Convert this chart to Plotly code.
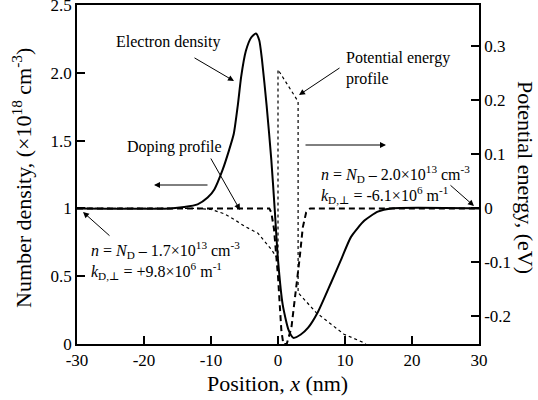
import plotly.graph_objects as go

# ---- data ----
x_el = [-30, -16, -14, -12, -10.5, -9.5, -8.3, -7.3, -6.6, -6.0, -5.5, -4.8, -4.0, -3.3,
        -2.8, -2.4, -1.7, -1.0, -0.5, 0.0, 0.7, 1.6, 2.3, 3.4, 4.5, 5.9, 7.9, 9.4, 10.9,
        12.9, 14.9, 16.9, 30]
n_el = [1.0, 1.0, 1.01, 1.03, 1.08, 1.14, 1.28, 1.43, 1.55, 1.76, 1.97, 2.16, 2.26, 2.29,
        2.24, 2.1, 1.76, 1.36, 1.0, 0.62, 0.29, 0.10, 0.045, 0.07, 0.12, 0.23, 0.45, 0.62, 0.79,
        0.91, 0.976, 1.0, 1.0]

x_dop = [-30, -1.3, -1.0, -0.6, 0.0, 0.5, 0.8, 1.3, 2.0, 2.6, 3.2, 3.7, 4.2, 4.8, 30]
n_dop = [1.0, 1.0, 0.97, 0.85, 0.5, 0.1, 0.0, 0.0, 0.12, 0.35, 0.62, 0.86, 0.97, 1.0, 1.0]

x_pot = [-30, -12, -10, -8, -6.6, -5, -3, -1, -0.3, 0.0, 0.0, 3.0, 3.0, 5.7, 9.85, 12.7, 14]
e_pot = [0.0, 0.0, -0.002, -0.01, -0.02, -0.033, -0.046, -0.076, -0.089, -0.09, 0.257, 0.198,
         -0.156, -0.193, -0.233, -0.248, -0.26]

x_ticks = [-30, -20, -10, 0, 10, 20, 30]
x_ticktext = ["-30", "-20", "-10", "0", "10", "20", "30"]
y_ticks = [0, 0.5, 1, 1.5, 2.0, 2.5]
y_ticktext = ["0", "0.5", "1", "1.5", "2.0", "2.5"]
y2_ticks = [-0.2, -0.1, 0, 0.1, 0.2, 0.3]
y2_ticktext = ["-0.2", "-0.1", "0", "0.1", "0.2", "0.3"]

FONT = "Liberation Serif, Times New Roman, DejaVu Serif, serif"
k = 0.2511  # eV per unit of density scale (aligns 0 eV with n=1)

L, R, T, B = 77, 479, 5, 344  # plot area in pixels

fig = go.Figure()
fig.add_trace(go.Scatter(x=x_el, y=n_el, mode="lines",
                         line=dict(color="black", width=2, shape="spline", smoothing=0.6),
                         showlegend=False))
fig.add_trace(go.Scatter(x=x_dop, y=n_dop, mode="lines",
                         line=dict(color="black", width=2, dash="6px,4px"), showlegend=False))
fig.add_trace(go.Scatter(x=x_pot, y=e_pot, mode="lines", yaxis="y2",
                         line=dict(color="black", width=1.2, dash="dot"), showlegend=False))

axis_common = dict(showline=True, linecolor="black", linewidth=1.5, ticks="inside", ticklen=8,
                   tickcolor="black", tickwidth=1.5, showgrid=False, zeroline=False,
                   ticklabeloverflow="allow", automargin=False,
                   tickfont=dict(family=FONT, size=17, color="black"))

fig.update_layout(
    width=538, height=400,
    margin=dict(l=L, r=538 - R, t=T, b=400 - B, autoexpand=False),
    plot_bgcolor="white", paper_bgcolor="white",
    font=dict(family=FONT, color="black"),
    xaxis=dict(range=[-30, 30], tickvals=x_ticks, ticktext=x_ticktext, mirror=True, **axis_common),
    yaxis=dict(range=[0, 2.5], tickvals=y_ticks, ticktext=y_ticktext, **axis_common),
    yaxis2=dict(range=[-k, 1.5 * k], overlaying="y", side="right", tickvals=y2_ticks,
                ticktext=y2_ticktext, **axis_common),
)


def px2d(px, py):
    return ((px - 277) / 6.7, (344 - py) / 135.6)


def px2paper(px, py):
    return ((px - L) / (R - L), (B - py) / (B - T))


def arrow(tail, head):
    fig.add_annotation(x=head[0], y=head[1], ax=tail[0], ay=tail[1], xref="x", yref="y",
                       axref="x", ayref="y", text="", showarrow=True, arrowhead=2,
                       arrowsize=1.2, arrowwidth=1, arrowcolor="black")


arrow(px2d(192, 57), px2d(233, 81))
arrow(px2d(209, 157), px2d(239, 210))
arrow(px2d(208, 185), px2d(153, 185))
arrow(px2d(303, 145), px2d(385, 145))
arrow(px2d(340, 67), px2d(298, 95))
arrow(px2d(448, 184), px2d(473, 206))
arrow(px2d(110, 237), px2d(82, 212))

tf = dict(family=FONT, size=16, color="black")


def label(px, py, text, xanchor="center"):
    x, y = px2d(px, py)
    fig.add_annotation(x=x, y=y, xref="x", yref="y", text=text, showarrow=False,
                       xanchor=xanchor, yanchor="middle", align="left", font=tf)


label(167, 42, "Electron density")
label(173, 147, "Doping profile")
label(343, 68, "Potential energy<br>profile", xanchor="left")
label(318, 184, "<i>n</i> = <i>N</i><sub>D</sub> – 2.0×10<sup>13</sup> cm<sup>-3</sup><br>"
                "<i>k</i><sub>D,⊥</sub> = -6.1×10<sup>6</sup> m<sup>-1</sup>", xanchor="left")
label(88, 260, "<i>n</i> = <i>N</i><sub>D</sub> – 1.7×10<sup>13</sup> cm<sup>-3</sup><br>"
               "<i>k</i><sub>D,⊥</sub> = +9.8×10<sup>6</sup> m<sup>-1</sup>", xanchor="left")

title_font = dict(family=FONT, size=22, color="black")
px_, py_ = px2paper(277, 383)
fig.add_annotation(x=px_, y=py_, xref="paper", yref="paper",
                   text="Position, <i>x</i> (nm)", showarrow=False, font=title_font,
                   xanchor="center", yanchor="middle")
px_, py_ = px2paper(22, 178)
fig.add_annotation(x=px_, y=py_, xref="paper", yref="paper",
                   text="Number density, (×10<sup>18</sup> cm<sup>-3</sup>)", showarrow=False,
                   font=title_font, textangle=-90, xanchor="center", yanchor="middle")
px_, py_ = px2paper(526, 177)
fig.add_annotation(x=px_, y=py_, xref="paper", yref="paper",
                   text="Potential energy, (eV)", showarrow=False,
                   font=title_font, textangle=90, xanchor="center", yanchor="middle")

fig.write_html("out.html")
